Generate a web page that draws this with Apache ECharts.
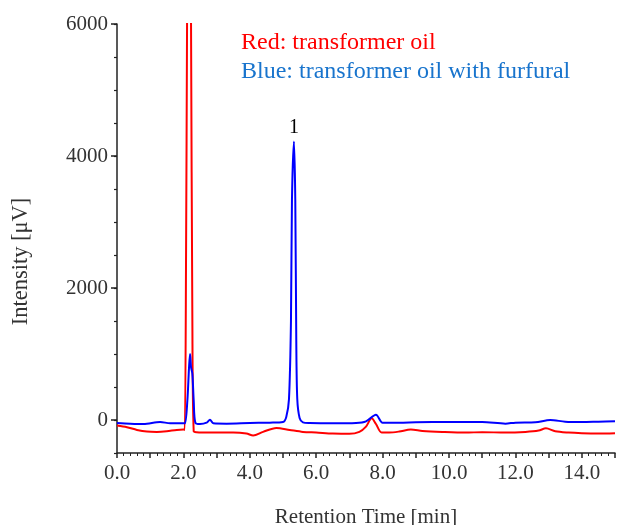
<!DOCTYPE html>
<html><head><meta charset="utf-8">
<script src="https://cdn.jsdelivr.net/npm/echarts@6/dist/echarts.min.js"></script>
<style>html,body{margin:0;padding:0;background:#fff}#c{width:617px;height:525px}</style>
</head><body><div id="c"></div>
<script>
const redTime = [0,0.3,0.6,0.9,1.2,1.5,1.8,2.0,2.04,2.08,2.11,2.17,2.23,2.27,2.31,2.4,2.8,3.5,3.9,4.1,4.4,4.8,5.2,5.6,6.0,6.5,7.0,7.3,7.5,7.67,7.8,7.97,8.2,8.5,8.85,9.2,9.8,10.5,11.0,11.7,12.3,12.7,12.92,13.2,13.6,14.0,14.5,15.0];
const redValue = [-85,-110,-150,-175,-180,-170,-150,-145,-150,2500,6000,12000,6000,1500,-170,-185,-190,-190,-205,-235,-180,-120,-150,-180,-190,-205,-210,-180,-100,25,-60,-190,-190,-175,-145,-165,-180,-190,-185,-190,-180,-160,-126,-170,-190,-200,-205,-200];
const blueTime = [0,0.4,0.8,1.3,1.6,2.0,2.05,2.12,2.17,2.2,2.23,2.27,2.31,2.36,2.5,2.7,2.8,2.9,3.3,4.0,4.6,5.0,5.1,5.18,5.24,5.27,5.33,5.37,5.40,5.43,5.5,5.6,5.8,6.5,7.2,7.5,7.8,8.0,8.5,9.0,10.0,11.0,11.7,12.0,12.6,13.05,13.5,14.0,14.5,15.0];
const blueValue = [-45,-55,-60,-30,-50,-50,-50,300,800,1000,800,700,300,-40,-60,-40,5,-50,-55,-45,-40,-30,50,317,1500,3336,4220,3336,1200,317,30,-35,-45,-50,-45,-20,80,-40,-40,-35,-30,-30,-55,-40,-35,0,-25,-30,-25,-20];
const yLabelValues = [0,2000,4000,6000];
const legendRed = 'Red: transformer oil';
const legendBlue = 'Blue: transformer oil with furfural';
const peakLabel = '1';

const font = 'Liberation Serif';
const zip = (a,b) => a.map((t,i)=>[t,b[i]]);
const chart = echarts.init(document.getElementById('c'));
const axisLineStyle = {color:'#222', width:1.5};
chart.setOption({
  animation:false,
  grid:{left:117,right:2,top:24,bottom:72,containLabel:false,outerBoundsMode:'none'},
  xAxis:{type:'value',min:0,max:15,interval:1,
    name:'Retention Time [min]',nameLocation:'middle',nameGap:54,
    nameTextStyle:{fontFamily:font,fontSize:21,color:'#333'},
    axisLine:{show:true,onZero:false,lineStyle:axisLineStyle},
    axisTick:{show:true,length:5,lineStyle:{color:'#222',width:1.5}},
    minorTick:{show:true,splitNumber:5,length:3,lineStyle:{color:'#222',width:1}},
    axisLabel:{interval:1,margin:10,fontFamily:font,fontSize:21,color:'#333',
      formatter:v=>(v%2===0)?v.toFixed(1):'',showMaxLabel:false},
    splitLine:{show:false}},
  yAxis:[{type:'value',min:-500,max:6000,interval:500,position:'left',
    name:'Intensity [μV]',nameLocation:'middle',nameGap:84,
    nameTextStyle:{fontFamily:font,fontSize:22.5,color:'#333',padding:[0,46,0,0]},
    axisLine:{show:true,onZero:false,lineStyle:axisLineStyle},
    axisTick:{show:true,length:3,lineStyle:{color:'#222',width:1.2}},
    axisLabel:{customValues:yLabelValues,margin:9,fontFamily:font,fontSize:21,color:'#333',formatter:v=>String(v)},
    splitLine:{show:false}},
   {type:'value',min:-500,max:6000,interval:500,position:'left',offset:0,
    axisLine:{show:false,onZero:false},
    axisTick:{show:true,customValues:yLabelValues,length:6,lineStyle:{color:'#222',width:1.5}},
    axisLabel:{show:false},splitLine:{show:false}}],
  series:[
    {type:'line',data:zip(redTime,redValue),showSymbol:false,smooth:0.3,
     lineStyle:{color:'#ff0000',width:2},itemStyle:{color:'#ff0000'},clip:true,z:2},
    {type:'line',data:zip(blueTime,blueValue),showSymbol:false,smooth:0.3,
     lineStyle:{color:'#0000ff',width:2},itemStyle:{color:'#0000ff'},clip:true,z:3,
     markPoint:{symbol:'circle',symbolSize:0,data:[{coord:[5.33,4220],value:peakLabel}],
       label:{show:true,position:'top',distance:4,formatter:peakLabel,fontFamily:font,fontSize:20,color:'#000'}}}
  ],
  graphic:[
    {type:'text',left:241,top:31,style:{text:legendRed,fontFamily:font,fontSize:24,fill:'#ff0000'}},
    {type:'text',left:241,top:60,style:{text:legendBlue,fontFamily:font,fontSize:24,fill:'#1874cd'}}
  ]
});
</script></body></html>
